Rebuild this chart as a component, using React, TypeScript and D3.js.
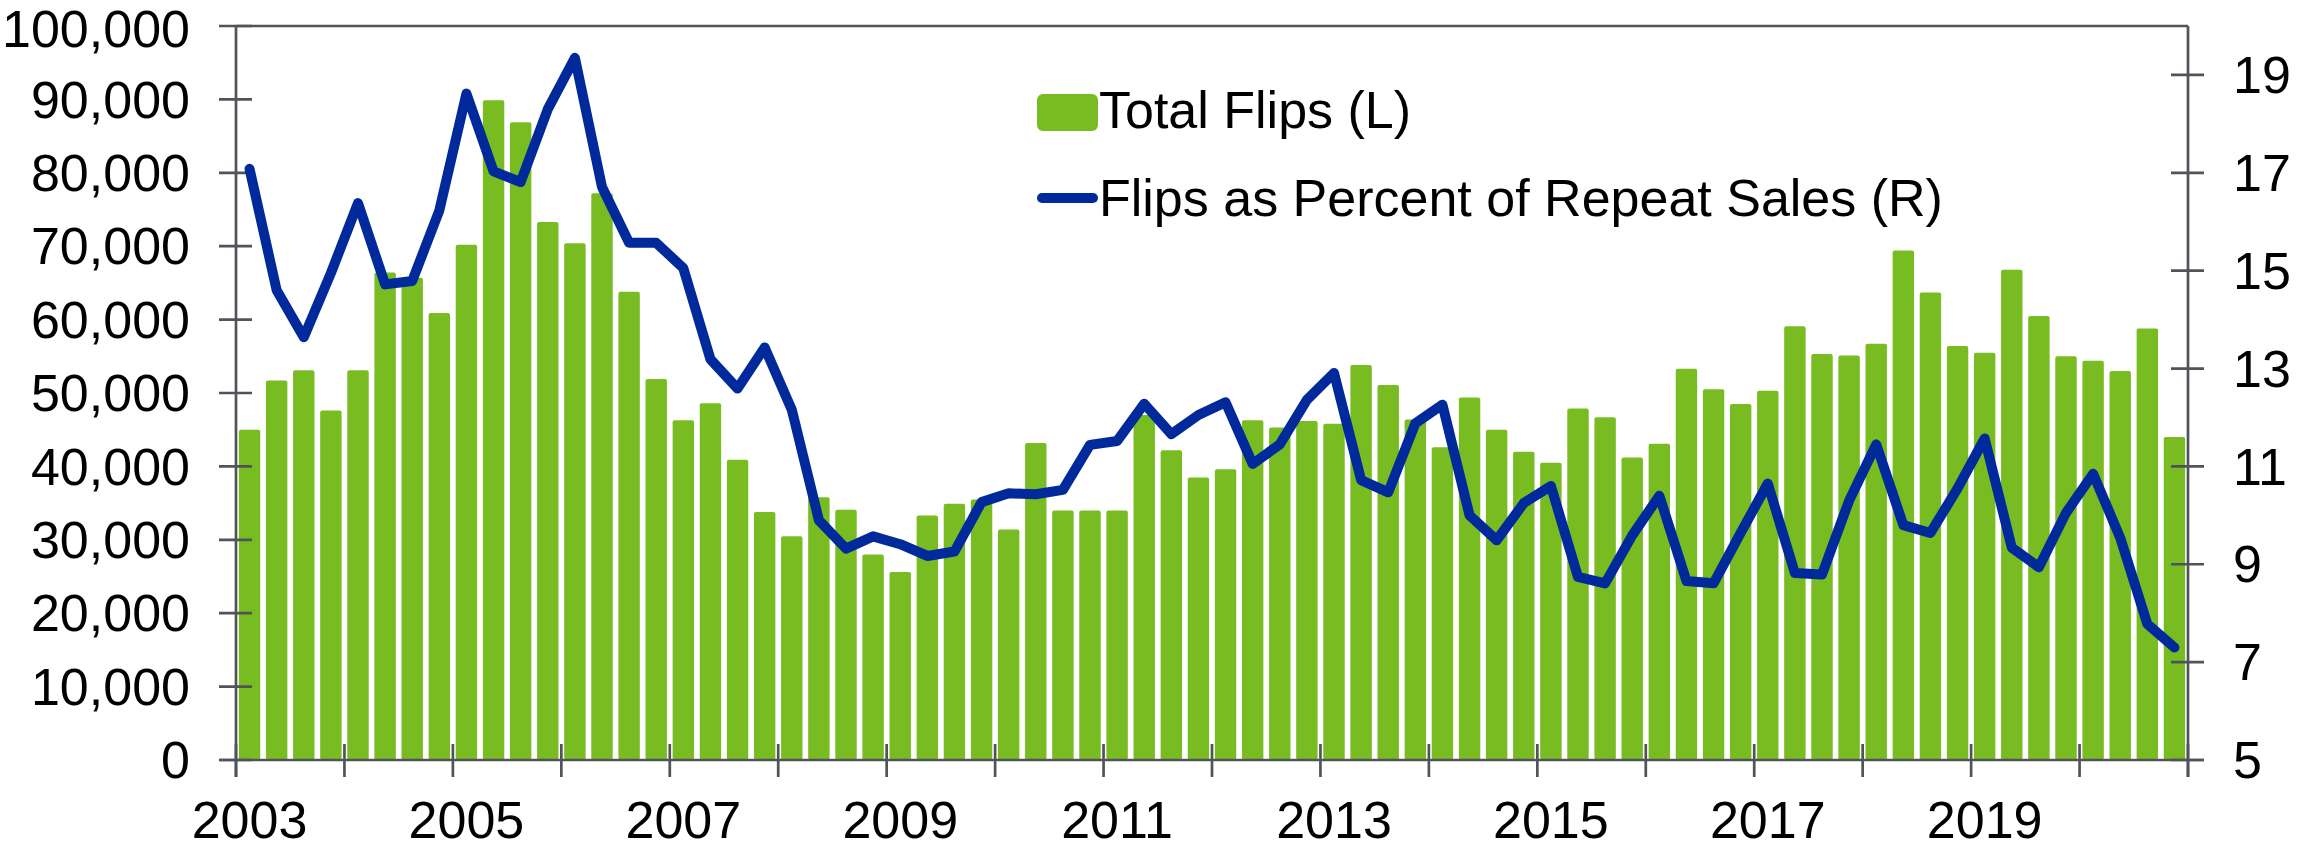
import * as d3 from "d3";

const width = 2297;
const height = 850;
const marginTop = 26;
const marginBottom = 90;
const marginLeft = 236;
const marginRight = 109;

const green = "#78bc22";
const blue = "#00299b";
const axisColor = "#50545a";
const font = "'Liberation Sans', Arial, sans-serif";

// quarters 2003 Q1 .. 2020 Q4
const years = d3.range(2003, 2021);
const quarters = years.flatMap((y) => [1, 2, 3, 4].map((q) => `${y}Q${q}`));

// Total flips (left axis)
const totalFlips = [
	45000, 51700, 53100, 47600,
	53100, 66400, 65700, 60900,
	70200, 89900, 86900, 73300,
	70400, 77200, 63800, 51900,
	46300, 48600, 40900, 33800,
	30500, 35800, 34100, 28000,
	25600, 33300, 34900, 35500,
	31400, 43200, 34000, 34000,
	34000, 47000, 42200, 38500,
	39600, 46300, 45300, 46200,
	45800, 53800, 51100, 46400,
	42600, 49400, 45000, 42000,
	40500, 47900, 46700, 41200,
	43100, 53300, 50500, 48500,
	50300, 59100, 55300, 55100,
	56700, 69400, 63700, 56400,
	55500, 66800, 60500, 55000,
	54400, 53000, 58800, 44000,
];

// Flips as percent of repeat sales (right axis)
const flipsPct = [
	17.08, 14.6, 13.64, 14.95,
	16.38, 14.72, 14.79, 16.23,
	18.62, 17.03, 16.81, 18.3,
	19.35, 16.71, 15.57, 15.57,
	15.05, 13.19, 12.59, 13.43,
	12.16, 9.9, 9.32, 9.57,
	9.41, 9.17, 9.26, 10.27,
	10.45, 10.43, 10.52, 11.44,
	11.52, 12.28, 11.66, 12.05,
	12.31, 11.05, 11.45, 12.36,
	12.91, 10.72, 10.47, 11.88,
	12.26, 10.0, 9.49, 10.25,
	10.6, 8.74, 8.61, 9.59,
	10.4, 8.66, 8.61, 9.64,
	10.65, 8.82, 8.79, 10.3,
	11.45, 9.8, 9.64, 10.55,
	11.57, 9.34, 8.94, 10.05,
	10.85, 9.54, 7.78, 7.3,
];

const leftTicks = d3.range(0, 100001, 10000);
const rightTicks = [5, 7, 9, 11, 13, 15, 17, 19];
const yearLabels = ["2003", "2005", "2007", "2009", "2011", "2013", "2015", "2017", "2019"];

const legendItems = ["Total Flips (L)", "Flips as Percent of Repeat Sales (R)"];

const Chart = () => {
	const x = d3
		.scaleBand()
		.domain(quarters)
		.range([marginLeft, width - marginRight])
		.paddingInner(0.21)
		.paddingOuter(0.105);

	const yLeft = d3
		.scaleLinear()
		.domain([0, 100000])
		.range([height - marginBottom, marginTop]);

	const yRight = d3
		.scaleLinear()
		.domain([5, 20])
		.range([height - marginBottom, marginTop]);

	const cx = (q) => x(q) + x.bandwidth() / 2;
	const x0 = marginLeft;
	const x1 = width - marginRight;
	const y0 = height - marginBottom;

	const line = d3
		.line()
		.x((d, i) => cx(quarters[i]))
		.y((d) => yRight(d));

	// year boundaries
	const boundaries = d3.range(0, quarters.length + 1, 4).map((i) => x0 + i * x.step());

	const fmt = d3.format(",");

	return (
		<svg
			width={width}
			height={height}
			viewBox={`0 0 ${width} ${height}`}
			style={{ position: "absolute", left: 0, top: 0, background: "#fff" }}
			fontFamily={font}
		>
			<g className="bars">
				{totalFlips.map((v, i) => (
					<rect
						key={quarters[i]}
						x={x(quarters[i])}
						y={yLeft(v)}
						width={x.bandwidth()}
						height={y0 - yLeft(v)}
						rx={2}
						fill={green}
					/>
				))}
			</g>

			<g className="frame" stroke={axisColor} strokeWidth={2.7} fill="none">
				<line x1={x0} x2={x1} y1={marginTop} y2={marginTop} />
				<line x1={x0} x2={x0} y1={marginTop} y2={y0 + 17} />
				<line x1={x1} x2={x1} y1={marginTop} y2={y0 + 17} />
				<line x1={x0 - 17} x2={x1 + 16} y1={y0} y2={y0} />
				{leftTicks.map((t) => (
					<line key={t} x1={x0 - 17} x2={x0 + 16} y1={yLeft(t)} y2={yLeft(t)} />
				))}
				{rightTicks.map((t) => (
					<line key={t} x1={x1 - 17} x2={x1 + 16} y1={yRight(t)} y2={yRight(t)} />
				))}
				{boundaries.map((b, i) => (
					<line key={i} x1={b} x2={b} y1={y0 - 16} y2={y0 + 17} />
				))}
			</g>

			<path
				d={line(flipsPct)}
				fill="none"
				stroke={blue}
				strokeWidth={10}
				strokeLinejoin="round"
				strokeLinecap="round"
			/>

			<g className="left-labels" fontSize={52} textAnchor="end" fill="#000">
				{leftTicks.map((t) => (
					<text key={t} x={190} y={Math.max(yLeft(t), 29)} dy="0.35em">
						{fmt(t)}
					</text>
				))}
			</g>
			<g className="right-labels" fontSize={52} textAnchor="start" fill="#000">
				{rightTicks.map((t) => (
					<text key={t} x={2233} y={yRight(t)} dy="0.35em">
						{t}
					</text>
				))}
			</g>
			<g className="x-labels" fontSize={52} textAnchor="middle" fill="#000">
				{yearLabels.map((yr) => (
					<text key={yr} x={cx(`${yr}Q1`)} y={838}>
						{yr}
					</text>
				))}
			</g>

			<g className="legend" fontSize={52} fill="#000">
				<rect x={1037} y={94} width={61} height={37} rx={6} fill={green} />
				<text x={1099} y={128}>{legendItems[0]}</text>
				<line
					x1={1042}
					x2={1093}
					y1={198}
					y2={198}
					stroke={blue}
					strokeWidth={10}
					strokeLinecap="round"
				/>
				<text x={1099} y={216}>{legendItems[1]}</text>
			</g>
		</svg>
	);
};

export default function App() {
	return <Chart />;
}
